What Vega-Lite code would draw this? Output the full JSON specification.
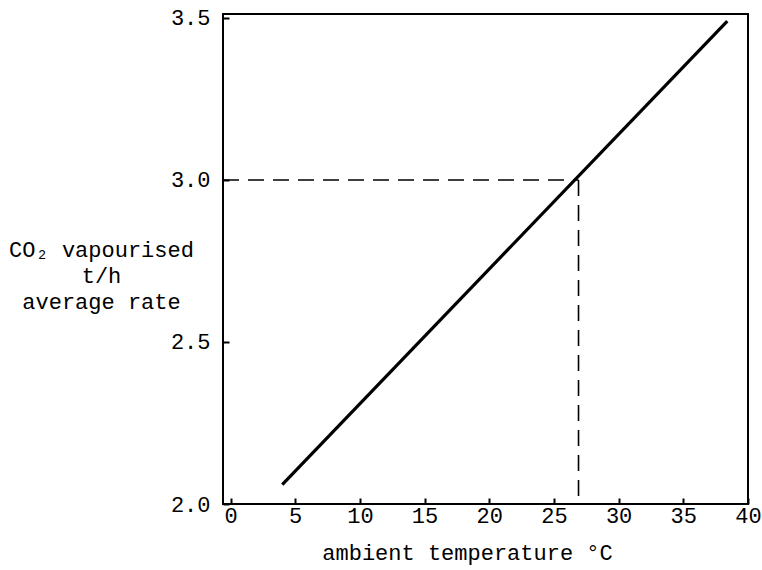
{
  "$schema": "https://vega.github.io/schema/vega-lite/v6.json",
  "width": 525,
  "height": 490,
  "autosize": {"type": "none"},
  "padding": {"left": 223, "top": 14, "right": 14, "bottom": 66},
  "background": "white",
  "config": {
    "view": {"stroke": "black", "strokeWidth": 2},
    "font": "Liberation Mono",
    "axis": {
      "labelFont": "Liberation Mono",
      "titleFont": "Liberation Mono",
      "labelFontSize": 22,
      "titleFontSize": 22,
      "labelColor": "black",
      "titleColor": "black",
      "titleFontWeight": "normal",
      "grid": false,
      "domain": false,
      "tickColor": "black",
      "tickWidth": 2,
      "tickSize": -6
    }
  },
  "datasets": {
    "rate": [
      {"temp": 4.0, "co2": 2.06},
      {"temp": 38.4, "co2": 3.49}
    ],
    "guide": [
      {"seg": "h", "ord": 1, "temp": -0.58, "co2": 3.0},
      {"seg": "h", "ord": 2, "temp": 26.9, "co2": 3.0},
      {"seg": "v", "ord": 1, "temp": 26.9, "co2": 3.0},
      {"seg": "v", "ord": 2, "temp": 26.9, "co2": 2.0}
    ]
  },
  "layer": [
    {
      "data": {"name": "guide"},
      "mark": {"type": "line", "color": "black", "strokeWidth": 1.6, "strokeDash": [16, 9], "clip": true},
      "encoding": {
        "x": {"field": "temp", "type": "quantitative"},
        "y": {"field": "co2", "type": "quantitative"},
        "detail": {"field": "seg"},
        "order": {"field": "ord"}
      }
    },
    {
      "data": {"name": "rate"},
      "mark": {"type": "line", "color": "black", "strokeWidth": 3.2},
      "encoding": {
        "x": {
          "field": "temp",
          "type": "quantitative",
          "scale": {"domain": [-0.58, 40], "nice": false, "zero": false},
          "axis": {
            "values": [0, 5, 10, 15, 20, 25, 30, 35, 40],
            "labelPadding": 7,
            "labelBaseline": "top",
            "labelFlush": false,
            "title": "ambient temperature °C",
            "titleX": 244,
            "titleY": 55,
            "titleBaseline": "alphabetic",
            "titleAnchor": "start",
            "titleAlign": "center"
          }
        },
        "y": {
          "field": "co2",
          "type": "quantitative",
          "scale": {"domain": [2.0, 3.512], "nice": false, "zero": false},
          "axis": {
            "values": [2.0, 2.5, 3.0, 3.5],
            "format": ".1f",
            "labelPadding": 19,
            "labelFlush": false,
            "title": ["CO₂ vapourised", "t/h", "average rate"],
            "titleAngle": 0,
            "titleAlign": "center",
            "titleBaseline": "middle",
            "titleLineHeight": 26,
            "titleX": -122,
            "titleY": 235,
            "titleAnchor": "start"
          }
        }
      }
    }
  ]
}
